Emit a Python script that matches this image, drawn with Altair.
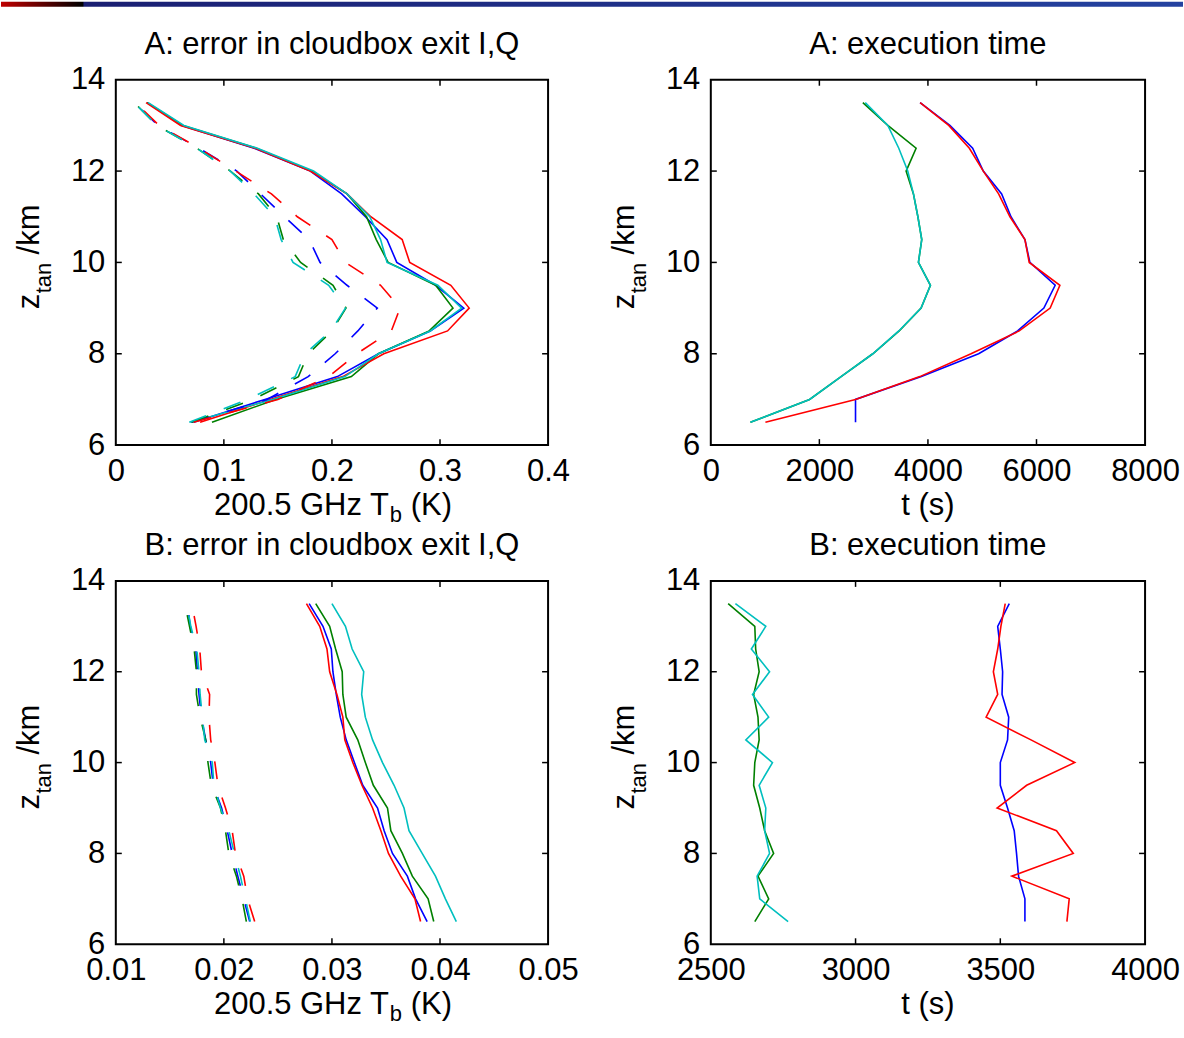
import altair as alt
import pandas as pd

FONT = "Liberation Sans"

# Tangent altitudes (km)
Z = [6.5, 7.0, 7.5, 8.0, 8.5, 9.0, 9.5, 10.0, 10.5, 11.0, 11.5, 12.0, 12.5, 13.0, 13.5]

SERIES = ["blue", "green", "red", "cyan"]
COLORS = ["#0000ff", "#008000", "#ff0000", "#00bfbf"]

# ---- Panel A: error in cloudbox exit I,Q (K) ----
A_ERR_BLUE = [0.072, 0.138, 0.205, 0.243, 0.291, 0.322, 0.296, 0.260, 0.251, 0.231, 0.209, 0.180, 0.128, 0.061, 0.029]
A_ERR_GREEN = [0.089, 0.148, 0.218, 0.243, 0.290, 0.312, 0.296, 0.252, 0.241, 0.232, 0.214, 0.181, 0.130, 0.062, 0.029]
A_ERR_RED = [0.078, 0.143, 0.210, 0.248, 0.307, 0.327, 0.310, 0.272, 0.265, 0.236, 0.214, 0.180, 0.129, 0.060, 0.028]
A_ERR_CYAN = [0.069, 0.145, 0.212, 0.243, 0.291, 0.320, 0.298, 0.251, 0.245, 0.235, 0.214, 0.183, 0.131, 0.063, 0.030]

A_ERR_DASH_BLUE = [0.070, 0.140, 0.178, 0.203, 0.224, 0.242, 0.214, 0.189, 0.179, 0.156, 0.134, 0.112, 0.077, 0.039, 0.017]
A_ERR_DASH_GREEN = [0.070, 0.127, 0.169, 0.178, 0.200, 0.213, 0.201, 0.171, 0.155, 0.149, 0.132, 0.106, 0.075, 0.038, 0.017]
A_ERR_DASH_RED = [0.072, 0.150, 0.197, 0.223, 0.255, 0.263, 0.245, 0.2125, 0.200, 0.168, 0.144, 0.111, 0.077, 0.040, 0.018]
A_ERR_DASH_CYAN = [0.068, 0.122, 0.166, 0.175, 0.199, 0.2125, 0.197, 0.164, 0.153, 0.147, 0.128, 0.106, 0.075, 0.038, 0.017]

# ---- Panel A: execution time (s) ----
A_TIME_BLUE = [2666, 2666, 3880, 4934, 5652, 6136, 6344, 5878, 5787, 5530, 5358, 5020, 4824, 4404, 3856]
A_TIME_GREEN = [730, 1820, 2400, 2985, 3470, 3874, 4046, 3825, 3886, 3815, 3733, 3598, 3782, 3261, 2801]
A_TIME_RED = [1006, 2666, 3850, 4794, 5682, 6252, 6431, 5866, 5787, 5511, 5302, 5020, 4763, 4383, 3856]
A_TIME_CYAN = [730, 1820, 2400, 2985, 3463, 3874, 4046, 3825, 3886, 3815, 3733, 3628, 3463, 3261, 2845]

# ---- Panel B: error in cloudbox exit I,Q (K) ----
B_ERR_BLUE = [0.03881, 0.03774, 0.03698, 0.0356, 0.03483, 0.03422, 0.03285, 0.03208, 0.03132, 0.03077, 0.0304, 0.03009, 0.02994, 0.02917, 0.02789]
B_ERR_GREEN = [0.03942, 0.0389, 0.03744, 0.03652, 0.03545, 0.03514, 0.03383, 0.03309, 0.03239, 0.03132, 0.03101, 0.03095, 0.03034, 0.02979, 0.0285]
B_ERR_RED = [0.0382, 0.03768, 0.03636, 0.03523, 0.03453, 0.03376, 0.03278, 0.03193, 0.03119, 0.03101, 0.03046, 0.02979, 0.02954, 0.02887, 0.02764]
B_ERR_CYAN = [0.04151, 0.0405, 0.03958, 0.03835, 0.03713, 0.03667, 0.03575, 0.03468, 0.03376, 0.03309, 0.03275, 0.03294, 0.03187, 0.03125, 0.0300]

B_ERR_DASH_BLUE = [0.02239, 0.02184, 0.02129, 0.02077, 0.02031, 0.01979, 0.01902, 0.01878, 0.01832, 0.01792, 0.0177, 0.01755, 0.0174, 0.01688, 0.01663]
B_ERR_DASH_GREEN = [0.02208, 0.02168, 0.02116, 0.02046, 0.02015, 0.01969, 0.01884, 0.01853, 0.01832, 0.0178, 0.01746, 0.01746, 0.01725, 0.01682, 0.01639]
B_ERR_DASH_RED = [0.02285, 0.0222, 0.02184, 0.02107, 0.02077, 0.02015, 0.01945, 0.01917, 0.01878, 0.01862, 0.01868, 0.01792, 0.01777, 0.01743, 0.01703]
B_ERR_DASH_CYAN = [0.02245, 0.02199, 0.02153, 0.02098, 0.02046, 0.01969, 0.01908, 0.01893, 0.01823, 0.01801, 0.0178, 0.0177, 0.01749, 0.01694, 0.01657]

# ---- Panel B: execution time (s) ----
B_TIME_BLUE = [3585, 3585, 3563, 3556, 3548, 3525, 3500, 3500, 3525, 3529, 3506, 3508, 3500, 3491, 3531]
B_TIME_GREEN = [2652, 2700, 2663, 2717, 2686, 2669, 2648, 2652, 2667, 2663, 2648, 2667, 2655, 2652, 2560]
B_TIME_RED = [3730, 3738, 3540, 3752, 3694, 3489, 3591, 3757, 3606, 3451, 3491, 3476, 3491, 3502, 3517]
B_TIME_CYAN = [2767, 2669, 2660, 2703, 2686, 2690, 2667, 2713, 2621, 2700, 2644, 2703, 2640, 2690, 2585]

# Axes
Z_DOMAIN = [6, 14]
Z_TICKS = [6, 8, 10, 12, 14]
A_ERR_TICKS = [0, 0.1, 0.2, 0.3, 0.4]
A_TIME_TICKS = [0, 2000, 4000, 6000, 8000]
B_ERR_TICKS = [0.01, 0.02, 0.03, 0.04, 0.05]
B_TIME_TICKS = [2500, 3000, 3500, 4000]

# Texts
TITLES = ["A: error in cloudbox exit I,Q", "A: execution time",
          "B: error in cloudbox exit I,Q", "B: execution time"]
ERR_XTITLE = ["200.5 GHz T", "b", "(K)"]
TIME_XTITLE = ["t (s)"]
YTITLE = ["z", "tan", "/km"]

FS = 31
SUB_FS = 22


def long_df(lists):
    rows = []
    for name, vals in zip(SERIES, lists):
        for z, v in zip(Z, vals):
            rows.append({"s": name, "z": z, "x": v})
    return pd.DataFrame(rows)


def one_row():
    return pd.DataFrame({"k": [0]})


def txt(text, x, y, size=FS, align="left", angle=0):
    props = dict(font=FONT, fontSize=size, align=align, baseline="alphabetic", color="black")
    if angle:
        props["angle"] = angle
    return alt.Chart(one_row()).mark_text(**props).encode(
        x=alt.value(x), y=alt.value(y), text=alt.value(text))


def panel(solid, dashed, xticks, xfmt, title, w, h, err, strip=False, dash=(18, 19)):
    xs = alt.Scale(domain=[xticks[0], xticks[-1]], nice=False, zero=False)
    ys = alt.Scale(domain=Z_DOMAIN, nice=False, zero=False)
    cs = alt.Scale(domain=SERIES, range=COLORS)

    xaxis = alt.Axis(values=xticks, format=xfmt, title="", labelPadding=11)
    yaxis = alt.Axis(values=Z_TICKS, format="d", title="", labelPadding=11)

    layers = []
    layers.append(
        alt.Chart(long_df(solid)).mark_line(strokeWidth=1.6).encode(
            x=alt.X("x:Q", scale=xs, axis=xaxis),
            y=alt.Y("z:Q", scale=ys, axis=yaxis),
            color=alt.Color("s:N", scale=cs, legend=None, sort=SERIES),
            order=alt.Order("z:Q"),
        )
    )
    if dashed is not None:
        layers.append(
            alt.Chart(long_df(dashed)).mark_line(strokeWidth=1.6, strokeDash=list(dash)).encode(
                x=alt.X("x:Q", scale=xs, axis=xaxis),
                y=alt.Y("z:Q", scale=ys, axis=yaxis),
                color=alt.Color("s:N", scale=cs, legend=None, sort=SERIES),
                order=alt.Order("z:Q"),
            )
        )

    # inward tick marks on all four sides
    xt = pd.DataFrame({"x": xticks[1:-1]})
    yt = pd.DataFrame({"z": Z_TICKS[1:-1]})
    tk = dict(color="black", strokeWidth=1.5)
    layers.append(alt.Chart(xt).mark_rule(**tk).encode(
        x=alt.X("x:Q", scale=xs, axis=xaxis), y=alt.value(h), y2=alt.value(h - 6)))
    layers.append(alt.Chart(xt).mark_rule(**tk).encode(
        x=alt.X("x:Q", scale=xs, axis=xaxis), y=alt.value(0), y2=alt.value(6)))
    layers.append(alt.Chart(yt).mark_rule(**tk).encode(
        y=alt.Y("z:Q", scale=ys, axis=yaxis), x=alt.value(0), x2=alt.value(6)))
    layers.append(alt.Chart(yt).mark_rule(**tk).encode(
        y=alt.Y("z:Q", scale=ys, axis=yaxis), x=alt.value(w), x2=alt.value(w - 6)))

    # panel title
    layers.append(txt(title, w / 2, -26, align="center"))

    # x axis title
    base_y = h + 70
    if err:
        main_w = 176
        total = 238
        s = w / 2 - total / 2
        layers.append(txt(ERR_XTITLE[0], s + main_w, base_y, align="right"))
        layers.append(txt(ERR_XTITLE[1], s + main_w + 1, base_y + 7, size=SUB_FS))
        layers.append(txt(ERR_XTITLE[2], s + main_w + 22, base_y))
    else:
        layers.append(txt(TIME_XTITLE[0], w / 2, base_y, align="center"))

    # y axis title (rotated, with subscript)
    start = h / 2 - 6 + 53
    layers.append(txt(YTITLE[0], -77, start, angle=270))
    layers.append(txt(YTITLE[1], -65, start - 16, size=SUB_FS, angle=270))
    layers.append(txt(YTITLE[2], -77, start - 16 - 31 - 8, angle=270))

    if strip:
        grad = alt.LinearGradient(
            gradient="linear",
            stops=[alt.GradientStop(color="#c00000", offset=0),
                   alt.GradientStop(color="#000000", offset=0.069),
                   alt.GradientStop(color="#1a1f72", offset=0.0705),
                   alt.GradientStop(color="#2442a0", offset=1)],
            x1=0, x2=1, y1=0, y2=0)
        layers.append(alt.Chart(one_row()).mark_rect(fill=grad).encode(
            x=alt.value(-115), x2=alt.value(1069), y=alt.value(-78), y2=alt.value(-73)))

    return alt.layer(*layers).properties(width=w, height=h)


a1 = panel([A_ERR_BLUE, A_ERR_GREEN, A_ERR_RED, A_ERR_CYAN],
           [A_ERR_DASH_BLUE, A_ERR_DASH_GREEN, A_ERR_DASH_RED, A_ERR_DASH_CYAN],
           A_ERR_TICKS, "~g", TITLES[0], 433, 366, True, strip=True)
a2 = panel([A_TIME_BLUE, A_TIME_GREEN, A_TIME_RED, A_TIME_CYAN], None,
           A_TIME_TICKS, "d", TITLES[1], 435, 366, False)
b1 = panel([B_ERR_BLUE, B_ERR_GREEN, B_ERR_RED, B_ERR_CYAN],
           [B_ERR_DASH_BLUE, B_ERR_DASH_GREEN, B_ERR_DASH_RED, B_ERR_DASH_CYAN],
           B_ERR_TICKS, "~g", TITLES[2], 433, 364, True)
b2 = panel([B_TIME_BLUE, B_TIME_GREEN, B_TIME_RED, B_TIME_CYAN], None,
           B_TIME_TICKS, "d", TITLES[3], 435, 364, False)

chart = alt.concat(
    a1, a2, b1, b2, columns=2,
    spacing={"row": 136, "column": 163}, bounds="flush",
).properties(padding=0).configure(background="white").configure_view(
    stroke="black", strokeWidth=2
).configure_axis(
    domain=False, ticks=False, grid=False,
    labelFont=FONT, labelFontSize=FS, labelColor="black",
    labelFlush=False, labelOverlap=False, labelBound=False,
)

chart.save("out.html", embed_options={"renderer": "svg", "actions": False})
